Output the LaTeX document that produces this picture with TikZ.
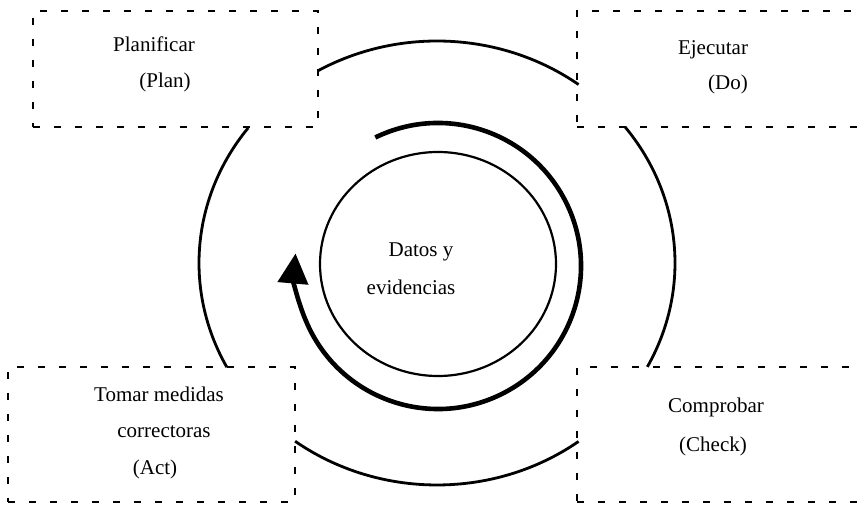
\documentclass[tikz,border=0pt]{standalone}
\usepackage{fontspec}
\setmainfont{Liberation Serif}
\usetikzlibrary{arrows.meta}
\begin{document}
\begin{tikzpicture}[x=1pt,y=1pt,
  stagebox/.style={draw=black,line width=1.8pt,dash pattern=on 7pt off 14pt,inner sep=0pt,minimum width=#1},
  lbl/.style={anchor=base,inner sep=0pt,font=\fontsize{21}{25}\selectfont},
  cyclearc/.style={line width=2.8pt,line cap=butt},
  spiralarrow/.style={line width=4.6pt,-{Triangle[width=30pt,length=30pt]}}
]
\useasboundingbox (0,0) rectangle (862,511);
% boxes
\node[stagebox=285pt,minimum height=116pt] (plan) at (175.5,442) {};
\node[stagebox=289pt,minimum height=116pt] (do) at (721.5,442) {};
\node[stagebox=287pt,minimum height=135pt] (act) at (151.5,76.5) {};
\node[stagebox=289pt,minimum height=135pt] (check) at (721.5,76.5) {};
% texts
\node[lbl] (t1) at (154,459) {Planificar};
\node[lbl] (t2) at (165,423) {(Plan)};
\node[lbl] (t3) at (713,456) {Ejecutar};
\node[lbl] (t4) at (728,421) {(Do)};
\node[lbl] (t5) at (159,109) {Tomar medidas};
\node[lbl] (t6) at (164,73) {correctoras};
\node[lbl] (t7) at (155,36) {(Act)};
\node[lbl] (t8) at (716,98) {Comprobar};
\node[lbl] (t9) at (713,59) {(Check)};
\node[lbl] (t10) at (421,254) {Datos y};
\node[lbl] (t11) at (411,216) {evidencias};
% centres
\coordinate (oc) at (437,248);
\coordinate (ic) at (438,247);
\coordinate (sc) at (438,245);
% inner circle
\draw[line width=2.2pt] (ic) ellipse[x radius=118pt,y radius=112pt];
% spiral arrow
\draw[spiralarrow] (sc) ++(116:143pt) arc[start angle=116,end angle=-185,radius=143pt];
% outer cycle arcs
\draw[cyclearc] (oc) ++(120:238pt and 222pt) arc[start angle=120,end angle=53.5,x radius=238pt,y radius=222pt];
\draw[cyclearc] (oc) ++(37.8:238pt and 222pt) arc[start angle=37.8,end angle=-27.9,x radius=238pt,y radius=222pt];
\draw[cyclearc] (oc) ++(-53.5:238pt and 222pt) arc[start angle=-53.5,end angle=-126.6,x radius=238pt,y radius=222pt];
\draw[cyclearc] (oc) ++(-152:238pt and 222pt) arc[start angle=-152,end angle=-217.5,x radius=238pt,y radius=222pt];
\end{tikzpicture}
\end{document}
